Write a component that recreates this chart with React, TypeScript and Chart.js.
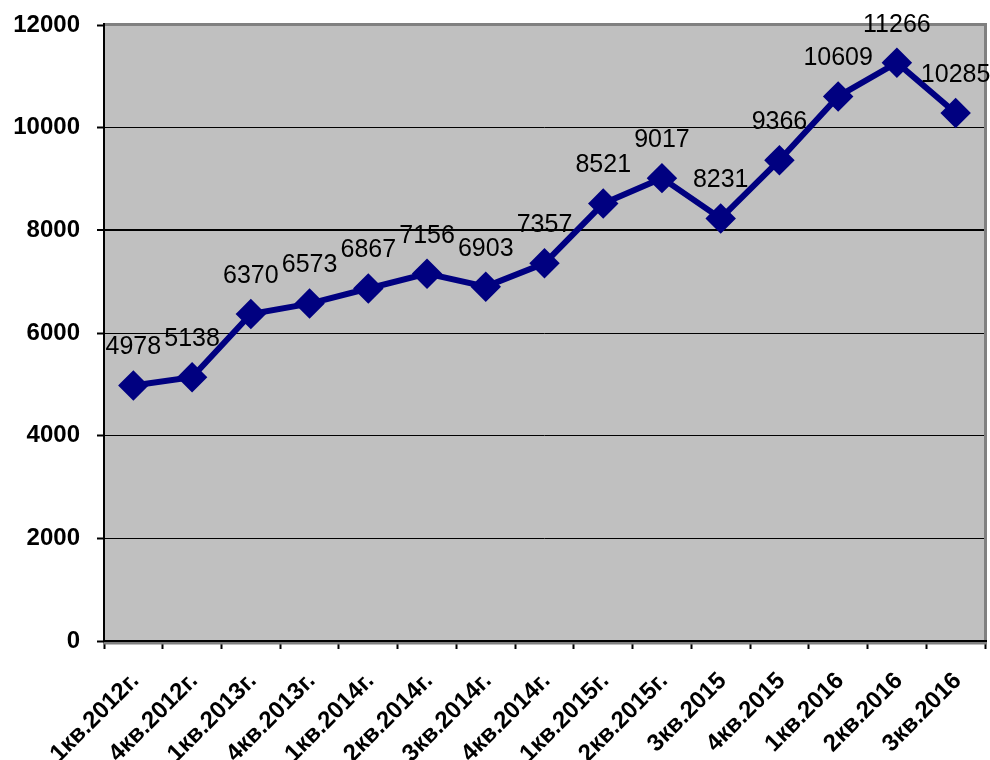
import React, { useEffect, useRef } from "react";
import { Chart, registerables } from "chart.js";

Chart.register(...registerables);

const categories = [
  "1кв.2012г.", "4кв.2012г.", "1кв.2013г.", "4кв.2013г.", "1кв.2014г.",
  "2кв.2014г.", "3кв.2014г.", "4кв.2014г.", "1кв.2015г.", "2кв.2015г.",
  "3кв.2015", "4кв.2015", "1кв.2016", "2кв.2016", "3кв.2016",
];
const values = [4978, 5138, 6370, 6573, 6867, 7156, 6903, 7357, 8521, 9017, 8231, 9366, 10609, 11266, 10285];
const yTicks = [0, 2000, 4000, 6000, 8000, 10000, 12000];

const FONT = "'Liberation Sans', Arial, sans-serif";

const plotPlugin = {
  id: "plotDecor",
  beforeDraw(chart: any) {
    const { ctx, chartArea: a } = chart;
    ctx.save();
    ctx.fillStyle = "#C0C0C0";
    ctx.fillRect(a.left, a.top, a.right - a.left, a.bottom - a.top);
    ctx.restore();
  },
  beforeDatasetsDraw(chart: any) {
    const { ctx, chartArea: a } = chart;
    ctx.save();
    ctx.strokeStyle = "#808080";
    ctx.lineWidth = 3;
    ctx.beginPath();
    ctx.moveTo(a.left, a.top - 0.5);
    ctx.lineTo(a.right + 0.5, a.top - 0.5);
    ctx.lineTo(a.right + 0.5, a.bottom);
    ctx.stroke();
    ctx.beginPath();
    ctx.moveTo(a.left, a.bottom + 2);
    ctx.lineTo(a.right + 2, a.bottom + 2);
    ctx.stroke();
    ctx.strokeStyle = "#000";
    ctx.lineWidth = 2;
    ctx.beginPath();
    ctx.moveTo(a.left, a.top - 2);
    ctx.lineTo(a.left, a.bottom + 1);
    ctx.moveTo(a.left, a.bottom);
    ctx.lineTo(a.right + 2, a.bottom);
    ctx.stroke();
    ctx.restore();
  },
  afterDatasetsDraw(chart: any) {
    const { ctx } = chart;
    const meta = chart.getDatasetMeta(0);
    ctx.save();
    ctx.font = `25px ${FONT}`;
    ctx.fillStyle = "#000";
    ctx.textAlign = "center";
    ctx.textBaseline = "middle";
    meta.data.forEach((pt: any, i: number) => {
      ctx.fillText(String(values[i]), pt.x, pt.y - 38);
    });
    ctx.restore();
  },
};

export default function App() {
  const ref = useRef<HTMLCanvasElement | null>(null);
  useEffect(() => {
    document.body.style.margin = "0";
    document.body.style.overflow = "hidden";
    document.documentElement.style.overflow = "hidden";
    if (!ref.current) return;
    const chart = new Chart(ref.current, {
      type: "line",
      data: {
        labels: categories,
        datasets: [
          {
            data: values,
            borderColor: "#000080",
            backgroundColor: "#000080",
            borderWidth: 6,
            pointStyle: "rectRot",
            pointRadius: 11,
            pointHoverRadius: 11,
            pointBackgroundColor: "#000080",
            pointBorderColor: "#000080",
            tension: 0,
            clip: false as any,
          },
        ],
      },
      options: {
        animation: false,
        responsive: true,
        maintainAspectRatio: false,
        layout: { autoPadding: false, padding: { left: 0, right: 5, top: 25, bottom: 0 } },
        plugins: { legend: { display: false }, tooltip: { enabled: false } },
        scales: {
          x: {
            type: "category",
            offset: true,
            grid: {
              offset: true,
              drawOnChartArea: false,
              drawTicks: true,
              tickLength: 8,
              tickColor: "#000",
              tickWidth: 2,
            },
            border: { display: false },
            ticks: {
              color: "#000",
              font: { family: FONT, size: 24, weight: "bold" },
              minRotation: 45,
              maxRotation: 45,
              padding: 18,
              labelOffset: 2,
              autoSkip: false,
            },
            afterFit(scale: any) {
              scale.height = 119;
              scale.paddingLeft = 0;
              scale.paddingRight = 0;
            },
          },
          y: {
            min: 0,
            max: 12000,
            afterBuildTicks(scale: any) {
              scale.ticks = yTicks.map((v) => ({ value: v }));
            },
            grid: {
              color: (c: any) => (c.tick && c.tick.value === 12000 ? "rgba(0,0,0,0)" : "#000"),
              lineWidth: (c: any) => (c.tick && c.tick.value === 8000 ? 2 : 1),
              tickLength: 7,
              tickColor: "#000",
              tickWidth: 2,
            },
            border: { display: false },
            ticks: {
              color: "#000",
              font: { family: FONT, size: 24, weight: "bold" },
              padding: 17,
              callback: (v: any) => String(v),
            },
            afterFit(scale: any) {
              scale.width = 104;
              scale.paddingTop = 0;
              scale.paddingBottom = 0;
            },
          },
        },
      },
      plugins: [plotPlugin],
    });
    return () => chart.destroy();
  }, []);
  return (
    <div style={{ width: 990, height: 760, position: "relative", overflow: "hidden" }}>
      <canvas ref={ref} />
    </div>
  );
}
